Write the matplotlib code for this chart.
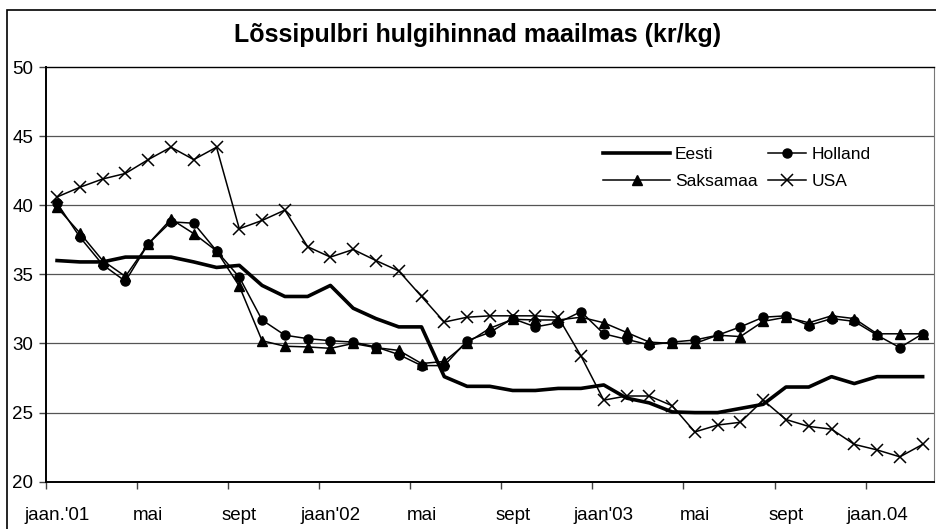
import numpy as np
import matplotlib.pyplot as plt
from matplotlib.patches import Rectangle

plt.rcParams['font.family'] = ['Liberation Sans', 'DejaVu Sans']

# monthly wholesale prices, jan 2001 .. mar 2004 (kr/kg)
eesti = [36.0, 35.9, 35.9, 36.25, 36.25, 36.25, 35.9, 35.5, 35.65, 34.2,
         33.4, 33.4, 34.2, 32.55, 31.8, 31.2, 31.2, 27.6, 26.9, 26.9,
         26.6, 26.6, 26.75, 26.75, 27.0, 26.05, 25.7, 25.05, 25.0, 25.0,
         25.3, 25.6, 26.85, 26.85, 27.6, 27.1, 27.6, 27.6, 27.6]
holland = [40.15, 37.7, 35.7, 34.5, 37.2, 38.8, 38.7, 36.7, 34.8, 31.7,
           30.6, 30.35, 30.2, 30.1, 29.75, 29.2, 28.4, 28.4, 30.2, 30.8,
           31.8, 31.2, 31.5, 32.3, 30.7, 30.3, 29.9, 30.1, 30.25, 30.6,
           31.2, 31.9, 32.0, 31.3, 31.8, 31.6, 30.6, 29.7, 30.7]
saksamaa = [39.85, 38.0, 36.0, 34.85, 37.2, 39.0, 37.95, 36.7, 34.15, 30.2,
            29.8, 29.75, 29.65, 30.0, 29.7, 29.5, 28.55, 28.7, 30.05, 31.1,
            31.75, 31.7, 31.7, 31.9, 31.5, 30.8, 30.1, 30.0, 30.0, 30.6,
            30.5, 31.6, 31.9, 31.5, 32.0, 31.8, 30.7, 30.7, 30.7]
usa = [40.6, 41.3, 41.9, 42.3, 43.3, 44.2, 43.3, 44.2, 38.3, 38.9,
       39.65, 37.0, 36.25, 36.8, 36.0, 35.25, 33.4, 31.55, 31.9, 32.0,
       32.0, 32.0, 31.9, 29.1, 25.9, 26.2, 26.2, 25.5, 23.6, 24.1,
       24.3, 25.9, 24.5, 24.0, 23.8, 22.7, 22.3, 21.8, 22.7]
month_labels = ["jaan.'01", 'mai', 'sept', "jaan'02", 'mai', 'sept',
                "jaan'03", 'mai', 'sept', 'jaan.04']

x = np.arange(len(eesti))
fs = 13.5
lfs = 12.5

fig = plt.figure(figsize=(9.36, 5.29), dpi=100)
ax = fig.add_axes([0.0488, 0.0894, 0.9491, 0.7839])

# outer chart border
fig.patches.append(Rectangle((7 / 936, -0.05), 1.1, (529 - 10) / 529 + 0.05,
                             transform=fig.transFigure, fill=False,
                             edgecolor='black', linewidth=1.2))

ax.set_ylim(20, 50)
ax.set_xlim(-0.5, len(x) - 0.5)
ax.set_yticks(np.arange(20, 51, 5))
for yv in range(25, 50, 5):
    ax.axhline(yv, color='#555555', linewidth=0.9, zorder=0)

l_e, = ax.plot(x, eesti, color='black', linewidth=2.6, label='Eesti')
l_h, = ax.plot(x, holland, color='black', linewidth=1.1, marker='o',
               markersize=6.5, label='Holland')
l_s, = ax.plot(x, saksamaa, color='black', linewidth=1.1, marker='^',
               markersize=7, label='Saksamaa')
l_u, = ax.plot(x, usa, color='black', linewidth=1.1, marker='x',
               markersize=8, markeredgewidth=1.1, label='USA')

# category ticks at boundaries, labels at category centres
ax.set_xticks(np.arange(-0.5, len(x), 4))
ax.set_xticklabels([])
ax.set_xticks(np.arange(0, len(x), 4), minor=True)
ax.set_xticklabels(month_labels, minor=True, fontsize=fs)
ax.tick_params(axis='x', which='major', direction='out', length=5, width=1, color='#444444')
ax.tick_params(axis='x', which='minor', length=0, pad=18)
ax.tick_params(axis='y', direction='out', length=5, width=1, labelsize=fs, pad=4, color='#444444')

ax.spines['left'].set_linewidth(1.4)
ax.spines['bottom'].set_linewidth(1.4)
ax.spines['top'].set_linewidth(1.0)
ax.spines['right'].set_color('#777777')

# legend as two columns placed separately
leg1 = ax.legend([l_e, l_s], ['Eesti', 'Saksamaa'], loc='center left',
                 bbox_to_anchor=(0.6274, 0.757), frameon=False, fontsize=lfs,
                 handlelength=3.86, handletextpad=0.29, labelspacing=0.7,
                 borderpad=0, borderaxespad=0)
ax.add_artist(leg1)
ax.legend([l_h, l_u], ['Holland', 'USA'], loc='center left',
          bbox_to_anchor=(0.8132, 0.757), frameon=False, fontsize=lfs,
          handlelength=2.2, handletextpad=0.29, labelspacing=0.7,
          borderpad=0, borderaxespad=0)

fig.text(0.51, 0.934, 'Lõssipulbri hulgihinnad maailmas (kr/kg)',
         ha='center', va='center', fontsize=18, fontweight='bold')

fig.savefig('out.png', dpi=100)
